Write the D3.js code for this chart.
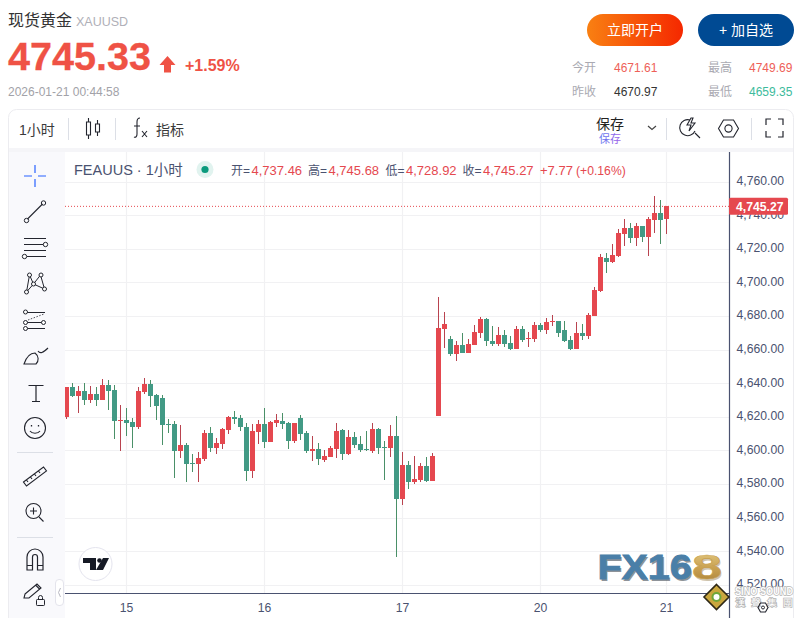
<!DOCTYPE html>
<html>
<head>
<meta charset="utf-8">
<script src="https://cdn.jsdelivr.net/npm/d3@7"></script>
<style>
html,body{margin:0;padding:0;background:#fff;overflow:hidden}
svg{display:block}
text{font-family:"Liberation Sans","Noto Sans CJK SC",sans-serif}
</style>
</head>
<body>
<svg id="chart" width="803" height="618"></svg>
<script>
// hourly candles
var opens=[4620.1,4637.8,4632.4,4635.4,4630.0,4633.6,4630.0,4639.0,4636.0,4617.5,
4618.1,4616.9,4614.0,4634.8,4639.6,4633.0,4631.2,4615.8,4615.8,4599.7,
4603.3,4592.6,4592.0,4594.9,4610.4,4601.5,4603.9,4612.2,4619.9,4619.3,
4614.0,4587.8,4611.0,4615.8,4605.1,4616.4,4617.6,4616.4,4605.7,4619.3,
4610.4,4599.7,4600.9,4594.4,4596.1,4600.9,4612.2,4597.9,4608.0,4603.9,
4600.9,4599.7,4612.8,4602.1,4601.5,4608.6,4571.1,4591.4,4581.3,4582.5,
4590.8,4581.9,4620.5,4672.3,4666.3,4657.4,4662.8,4658.0,4662.8,4669.9,
4678.2,4665.1,4663.4,4668.7,4664.0,4660.4,4672.3,4666.3,4666.3,4674.7,
4671.7,4676.5,4677.0,4671.7,4665.7,4660.4,4670.0,4668.2,4680.1,4695.0,
4714.6,4712.2,4715.8,4728.9,4732.4,4726.5,4733.6,4727.1,4737.2,4741.4,
4737.46];
var highs=[4637.8,4640.2,4638.4,4640.2,4638.4,4637.8,4642.5,4641.9,4639.0,4627.1,
4625.3,4619.3,4637.8,4643.1,4641.9,4633.6,4633.0,4618.7,4617.5,4615.2,
4604.4,4597.9,4599.1,4612.2,4614.0,4607.4,4613.4,4620.5,4623.5,4621.1,
4616.3,4615.8,4618.2,4625.3,4617.6,4621.7,4622.3,4617.0,4616.4,4621.1,
4611.6,4608.6,4604.5,4600.3,4602.7,4616.4,4612.8,4612.2,4611.0,4608.6,
4611.6,4616.4,4613.4,4605.7,4615.2,4620.5,4599.1,4593.8,4596.7,4592.6,
4596.1,4598.5,4691.3,4682.4,4668.1,4665.1,4669.9,4666.3,4674.7,4679.4,
4678.8,4674.1,4673.5,4671.7,4668.1,4674.1,4674.1,4670.5,4676.5,4675.9,
4678.8,4680.6,4677.0,4677.0,4668.1,4676.5,4675.3,4681.9,4697.3,4717.0,
4717.6,4722.9,4731.9,4737.8,4735.4,4735.4,4733.6,4739.0,4751.5,4749.1,
4745.68];
var lows=[4618.9,4631.8,4622.3,4627.1,4628.3,4626.5,4630.0,4624.1,4606.8,4599.7,
4608.6,4601.5,4612.8,4633.6,4625.9,4618.1,4603.3,4610.4,4583.6,4595.5,
4581.2,4587.2,4581.2,4593.7,4599.1,4597.9,4600.9,4609.8,4615.8,4611.6,
4581.8,4583.6,4603.9,4601.5,4605.1,4614.0,4612.8,4600.9,4604.5,4606.2,
4598.5,4593.8,4591.4,4593.2,4596.1,4595.6,4594.4,4597.3,4601.5,4599.1,
4599.7,4598.5,4597.9,4582.5,4596.1,4536.6,4567.6,4577.1,4580.1,4581.3,
4581.3,4581.9,4620.5,4661.0,4656.2,4653.2,4658.0,4658.0,4662.8,4666.9,
4662.2,4662.2,4662.2,4661.6,4659.8,4660.4,4664.5,4661.6,4664.5,4670.5,
4669.3,4674.1,4667.5,4664.5,4659.8,4660.4,4665.8,4666.4,4680.1,4694.4,
4705.7,4711.6,4715.2,4721.7,4723.5,4721.7,4724.1,4715.8,4729.5,4722.9,
4728.92];
var closes=[4637.8,4632.4,4635.4,4630.0,4633.6,4630.0,4639.0,4635.4,4617.5,4618.1,
4616.3,4614.0,4635.4,4639.6,4632.4,4626.5,4615.2,4615.2,4599.7,4603.3,
4592.0,4592.0,4595.5,4610.4,4601.5,4604.4,4612.8,4619.9,4618.7,4614.0,
4587.8,4611.6,4615.8,4605.1,4617.0,4618.2,4615.8,4605.7,4616.4,4609.8,
4599.7,4600.9,4595.0,4596.7,4601.5,4611.6,4597.9,4608.0,4603.3,4600.3,
4600.3,4612.8,4601.5,4601.5,4608.6,4571.1,4591.4,4581.3,4583.0,4590.8,
4581.9,4596.7,4672.9,4675.3,4657.4,4662.8,4658.0,4663.4,4670.5,4678.2,
4665.1,4663.4,4668.7,4663.4,4660.4,4672.3,4665.7,4666.9,4674.7,4671.7,
4676.5,4677.0,4669.9,4665.1,4660.4,4669.9,4668.2,4680.7,4695.5,4715.2,
4712.2,4716.4,4729.5,4732.4,4726.5,4733.6,4727.1,4737.8,4741.4,4737.2,
4745.27];
var yTicks=[4520,4540,4560,4580,4600,4620,4640,4660,4680,4700,4720,4740,4760];
var dayLabels=["15","16","17","20","21"];
var dayIndex=[10,33,56,79,100];
var lastPrice=4745.27;

var RED="#e5484f",GREEN="#429a85",WICK_RED="#b9434f",WICK_GREEN="#4a9068",AXIS="#4a5270";
var svg=d3.select("#chart");
var x=d3.scaleLinear().domain([0,100]).range([66.5,666.5]);
var y=d3.scaleLinear().domain([4520,4760]).range([584.8,181.6]);
var fmt=d3.format(",.2f");

function txt(s,px,py,size,col,opt){
  opt=opt||{};
  return svg.append("text").attr("x",px).attr("y",py).attr("font-size",size).attr("fill",col)
    .attr("font-weight",opt.w||null).attr("text-anchor",opt.a||null).text(s);
}
function icon(d,col,sw,fill){
  return svg.append("path").attr("d",d).attr("fill",fill||"none").attr("stroke",col||"#23252e").attr("stroke-width",sw||1.1);
}

// ---- page header
txt("现货黄金",8,26,16,"#333");
txt("XAUUSD",76,26,12.5,"#b0b0b8");
txt("4745.33",8,70,39.6,"#ef5245",{w:"bold"}).attr("stroke","#ef5245").attr("stroke-width",.3);
icon("M167.5 56 L175.5 65 L171 65 L171 72.5 L164 72.5 L164 65 L159.5 65 Z","none",0,"#ef5245");
txt("+1.59%",185,71,16,"#ef5245",{w:"bold"});
txt("2026-01-21 00:44:58",8,96,12,"#a2a2a8");

var defs=svg.append("defs");
var g1=defs.append("linearGradient").attr("id","btn");
g1.append("stop").attr("offset",0).attr("stop-color","#f98012");
g1.append("stop").attr("offset",1).attr("stop-color","#f52800");
var g2=defs.append("linearGradient").attr("id","gold").attr("x1",0).attr("x2",0).attr("y1",0).attr("y2",1);
g2.append("stop").attr("offset",0).attr("stop-color","#e8d08a");
g2.append("stop").attr("offset",.55).attr("stop-color","#c8a050");
g2.append("stop").attr("offset",1).attr("stop-color","#a87f38");
var g3=defs.append("linearGradient").attr("id","save");
g3.append("stop").attr("offset",0).attr("stop-color","#5b7cf0");
g3.append("stop").attr("offset",1).attr("stop-color","#a45ee8");
defs.append("clipPath").attr("id","pane").append("rect").attr("x",65).attr("y",152).attr("width",664).attr("height",441);

svg.append("rect").attr("x",587).attr("y",14).attr("width",96).attr("height",32).attr("rx",16).attr("fill","url(#btn)");
txt("立即开户",635,35,14,"#fff",{a:"middle"});
svg.append("rect").attr("x",698).attr("y",14).attr("width",96).attr("height",32).attr("rx",16).attr("fill","#004a93");
txt("+ 加自选",746,35,14,"#fff",{a:"middle"});

txt("今开",572,72,12,"#aaaab2");
txt("4671.61",614,72,12,"#ee5f58");
txt("最高",708,72,12,"#aaaab2");
txt("4749.69",749,72,12,"#ee5f58");
txt("昨收",572,96,12,"#aaaab2");
txt("4670.97",614,96,12,"#333");
txt("最低",708,96,12,"#aaaab2");
txt("4659.35",749,96,12,"#3dbb9c");

// ---- frame + toolbar
svg.append("rect").attr("x",8.5).attr("y",109.5).attr("width",785).attr("height",530).attr("rx",8).attr("fill","#fff").attr("stroke","#ececf0");
svg.append("rect").attr("x",9).attr("y",148).attr("width",784).attr("height",4).attr("fill","#f5f5f8");
svg.append("rect").attr("x",9).attr("y",152).attr("width",56).attr("height",466).attr("fill","#f9f9fc");

txt("1小时",19,135,14,"#3a3a3a");
[68.5,115.5,666.5,751.5].forEach(function(sx){
  svg.append("line").attr("x1",sx).attr("x2",sx).attr("y1",118).attr("y2",140).attr("stroke","#dcdfe6");
});
icon("M86.5 122h4v13h-4zM95.5 124h4v8h-4zM88.5 118v4M88.5 135v4M97.5 120v4M97.5 132v4","#23252e",1.1);
icon("M134 137c2 1 3-1 3-3v-12c0-3 1-4 3-4M134 126h6M142 131l5 6M147 131l-5 6","#23252e",1.1);
txt("指标",156,135,14,"#3a3a3a");
txt("保存",596,129,14,"#222");
txt("保存",599,143,11,"url(#save)");
icon("M648 126l4 3.5 4-3.5","#444",1.2);
icon("M695 133l5 5M690 120a8 8 0 1 0 5 11M691 118l-4 7h4l-2 6 6-8h-4l2-5z","#23252e",1.1);
icon("M718.5 128.5l5-8.5h10l5 8.5-5 8.5h-10z","#23252e",1.1);
svg.append("circle").attr("cx",728.5).attr("cy",128.5).attr("r",3.6).attr("fill","none").attr("stroke","#23252e").attr("stroke-width",1.1);
icon("M766 125v-6h5M778 119h5v6M783 131v6h-5M771 137h-5v-6","#23252e",1.2);

// ---- grid
svg.append("g").selectAll("line").data(yTicks).join("line")
  .attr("x1",65).attr("x2",729).attr("y1",function(d){return Math.round(y(d))+.5}).attr("y2",function(d){return Math.round(y(d))+.5})
  .attr("stroke","#f1f1f3").attr("stroke-width",1.2);
svg.append("g").selectAll("line").data(dayIndex).join("line")
  .attr("x1",function(d){return x(d)}).attr("x2",function(d){return x(d)}).attr("y1",152).attr("y2",593)
  .attr("stroke","#f1f1f3").attr("stroke-width",1.2);

// ---- candles
var idx=d3.range(opens.length);
var plot=svg.append("g").attr("clip-path","url(#pane)").attr("shape-rendering","crispEdges");
plot.selectAll("rect.wick").data(idx).join("rect").attr("class","wick")
  .attr("x",function(i){return x(i)-.5}).attr("width",1)
  .attr("y",function(i){return y(highs[i])}).attr("height",function(i){return y(lows[i])-y(highs[i])})
  .attr("fill",function(i){return closes[i]>=opens[i]?WICK_RED:WICK_GREEN});
plot.selectAll("rect.body").data(idx).join("rect").attr("class","body")
  .attr("x",function(i){return x(i)-2.5}).attr("width",5)
  .attr("y",function(i){return y(Math.max(opens[i],closes[i]))})
  .attr("height",function(i){return Math.max(1,Math.abs(y(opens[i])-y(closes[i])))})
  .attr("fill",function(i){return closes[i]>=opens[i]?RED:GREEN});

svg.append("line").attr("x1",65).attr("x2",729).attr("y1",y(lastPrice)).attr("y2",y(lastPrice))
  .attr("stroke","#e5484f").attr("stroke-dasharray","1 2");

// ---- axes
var yAxis=svg.append("g").attr("transform","translate(729.5,-1)")
  .call(d3.axisRight(y).tickValues(yTicks).tickSize(0).tickPadding(7).tickFormat(fmt));
var xAxis=svg.append("g").attr("transform","translate(-0.5,593.5)")
  .call(d3.axisBottom(x).tickValues(dayIndex).tickSize(0).tickPadding(10).tickFormat(function(d,i){return dayLabels[i]}));
yAxis.select(".domain").remove();
xAxis.select(".domain").remove();
[yAxis,xAxis].forEach(function(a){
  a.selectAll("text").attr("fill",AXIS).attr("font-size",12.2).attr("font-family",'"Liberation Sans",sans-serif');
});
svg.append("line").attr("x1",65).attr("x2",729).attr("y1",593.5).attr("y2",593.5).attr("stroke",AXIS).attr("stroke-width",1.2);
svg.append("line").attr("x1",729.5).attr("x2",729.5).attr("y1",152).attr("y2",618).attr("stroke",AXIS).attr("stroke-width",1.2);

svg.append("rect").attr("x",729).attr("y",y(lastPrice)-8.5).attr("width",59).attr("height",17).attr("rx",1.5).attr("fill",RED);
txt(fmt(lastPrice),736,y(lastPrice)+4.5,12.2,"#fff",{w:"bold"});

// ---- legend line
svg.append("text").attr("x",74).attr("y",175).attr("font-size",14.5).attr("fill",AXIS).text("FEAUUS · 1小时");
svg.append("circle").attr("cx",205).attr("cy",169.5).attr("r",8.5).attr("fill","#e1f3ef");
svg.append("circle").attr("cx",205).attr("cy",169.5).attr("r",3.6).attr("fill","#0b9a7d");
var legendNames=["开=","高=","低=","收="];
var legendValues=["4,737.46","4,745.68","4,728.92","4,745.27"];
var legendX=[231,308,385.5,462.5];
legendNames.forEach(function(n,i){
  txt(n,legendX[i],175,12,AXIS);
  txt(legendValues[i],legendX[i]+20.5,175,13,RED);
});
txt("+7.77",540,175,13,RED);
txt("(+0.16%)",576,175,12.2,RED);

// ---- drawing tools on the left
var ic="#23252e";
icon("M35 165v8M35 179v8M24 176h8M38 176h8","#2962ff",1.2);
icon("M27.5 219l15-15","#23252e",1.1);
[[26.5,220.5],[43.5,203]].forEach(function(p){svg.append("circle").attr("cx",p[0]).attr("cy",p[1]).attr("r",2.2).attr("fill","none").attr("stroke",ic)});
icon("M24 238.5h22M24 244.5h20M24 250.5h22M27 256.5h19",ic,1.2);
[[45.5,244.5],[24.5,256.5]].forEach(function(p){svg.append("circle").attr("cx",p[0]).attr("cy",p[1]).attr("r",2.2).attr("fill","#fff").attr("stroke",ic)});
icon("M26.5 292l3-17 4 9 7-9 4 14-11-5z",ic,1);
[[26.5,292],[29.5,275],[33.5,284],[41,275],[44.5,289]].forEach(function(p){svg.append("circle").attr("cx",p[0]).attr("cy",p[1]).attr("r",2).attr("fill","#fff").attr("stroke",ic)});
icon("M27 312.5h18M27 322.5h16M27 328.5h18",ic,1.2);
icon("M28 320l16-6",ic,.8).attr("stroke-dasharray","1.5 1.5");
[[25.5,312],[25.5,322.5],[25.5,328.5],[43.5,322.5]].forEach(function(p){svg.append("circle").attr("cx",p[0]).attr("cy",p[1]).attr("r",2).attr("fill","#fff").attr("stroke",ic)});
icon("M24 364h12c3-3 3-8-1-11-5 0-9 5-11 11zM38 351c2 3 5 2 10-3",ic,1.1);
icon("M28.5 385.5h15M36 385.5v16M32 401.5h8",ic,1.2);
svg.append("circle").attr("cx",35).attr("cy",428).attr("r",10.5).attr("fill","none").attr("stroke",ic).attr("stroke-width",1.1);
icon("M30 431c2 3 8 3 10 0",ic,1.1);
icon("M31.5 425v1.5M38.5 425v1.5",ic,1.3);
icon("M17 452.5h36","#dcdfe6",1);
icon("M23.5 482l20-15 3 4-20 15zM28 482l-1.5-2M32 479l-1.5-2M36 476l-1.5-2M40 473l-1.5-2",ic,1.1);
svg.append("circle").attr("cx",33.5).attr("cy",511).attr("r",7.5).attr("fill","none").attr("stroke",ic).attr("stroke-width",1.1);
icon("M39 517l4.5 4.5M30 511h7M33.5 507.5v7",ic,1.1);
icon("M17 537.5h36","#dcdfe6",1);
icon("M27 570v-13a8 8 0 0 1 16 0v13h-5.5v-13a2.5 2.5 0 0 0-5 0v13zM27 565.5h5.5M37.5 565.5h5.5",ic,1.2);
icon("M25 594l12-10 4 4-12 10h-5zM36 585.5l4 4",ic,1.1);
svg.append("rect").attr("x",36.5).attr("y",599.5).attr("width",8).attr("height",6).attr("fill","#f9f9fc").attr("stroke",ic).attr("rx",.8);
icon("M38.5 599.5v-2a2 2 0 0 1 4 0v2",ic,1);

svg.append("rect").attr("x",55.5).attr("y",579.5).attr("width",8).attr("height",26).attr("rx",3.5).attr("fill","#fff").attr("stroke","#e4e4ec");
icon("M60.5 588l-2 4.5 2 4.5","#b8b8c2",1);

// ---- tv logo + watermark
svg.append("circle").attr("cx",95.5).attr("cy",564).attr("r",16.5).attr("fill","#fff").attr("stroke","#e4e4ee");
icon("M83 558h13v12h-6v-7h-7zM103 558h6l-6 12h-7z","none",0,"#161a25");
svg.append("circle").attr("cx",99.5).attr("cy",560.5).attr("r",2.3).attr("fill","#161a25");

svg.append("text").attr("x",599).attr("y",580.5).attr("font-size",35).attr("font-weight","bold")
  .attr("fill","#333c46").attr("opacity",.55).attr("textLength",94).attr("lengthAdjust","spacingAndGlyphs").text("FX16");
svg.append("text").attr("x",597.5).attr("y",579).attr("font-size",35).attr("font-weight","bold")
  .attr("fill","#4a7fa8").attr("stroke","#4a7fa8").attr("stroke-width",.8).attr("textLength",94).attr("lengthAdjust","spacingAndGlyphs").text("FX16");
svg.append("text").attr("x",693).attr("y",580.5).attr("font-size",35).attr("font-weight","bold")
  .attr("fill","#a08a60").attr("opacity",.5).attr("textLength",30).attr("lengthAdjust","spacingAndGlyphs").text("8");
svg.append("text").attr("x",692).attr("y",579).attr("font-size",35).attr("font-weight","bold")
  .attr("fill","url(#gold)").attr("stroke","#c8a050").attr("stroke-width",.6).attr("textLength",30).attr("lengthAdjust","spacingAndGlyphs").text("8");

icon("M716.5 584.5l12.5 12.5-12.5 12.5-12.5-12.5z","#2e2816",1.6,"#c9a63e");
svg.append("circle").attr("cx",716.5).attr("cy",597).attr("r",4).attr("fill","#fff").attr("stroke","#6fa63a").attr("stroke-width",2);
svg.append("text").attr("x",735).attr("y",594.5).attr("font-size",10.5).attr("font-weight","bold").attr("fill","#fff")
  .attr("stroke","#b4b4b4").attr("stroke-width",1.4).attr("paint-order","stroke").attr("textLength",58).attr("lengthAdjust","spacingAndGlyphs").text("SINO SOUND");
svg.append("text").attr("x",735.5).attr("y",605.5).attr("font-size",9.5).attr("fill","#fff")
  .attr("stroke","#b4b4b4").attr("stroke-width",1.4).attr("paint-order","stroke").attr("textLength",57).text("漢聲集團");
icon("M758 607.5l2.5-4.5h5l2.5 4.5-2.5 4.5h-5z","#23252e",1.1);
svg.append("circle").attr("cx",763).attr("cy",607.5).attr("r",1.5).attr("fill","none").attr("stroke","#23252e");
</script>
</body>
</html>
